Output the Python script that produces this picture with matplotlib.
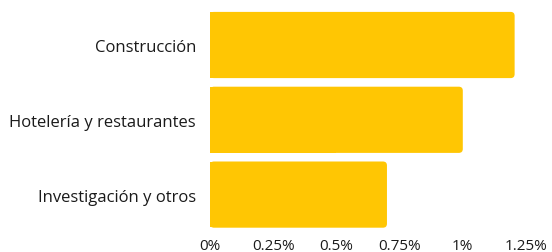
import matplotlib
matplotlib.use("Agg")
import matplotlib.pyplot as plt
from matplotlib.patches import FancyBboxPatch, Rectangle

categories = ["Construcción", "Hotelería y restaurantes", "Investigación y otros"]
values = [1.205, 1.0, 0.70]
tick_vals = [0, 0.25, 0.5, 0.75, 1.0, 1.25]
tick_labels = ["0%", "0.25%", "0.5%", "0.75%", "1%", "1.25%"]

color = "#FFC603"
plt.rcParams["font.family"] = ["Open Sans", "DejaVu Sans"]

fig = plt.figure(figsize=(5.52, 2.53), dpi=100)
ax = fig.add_axes([210/552, 1-233/253, (526-210)/552, (233-8.6)/253])
ax.set_xlim(0, 1.25)
ax.set_ylim(2.5, -0.5)

h = 0.885
px_x = (526-210)/1.25
px_y = (233-8.6)/3
aspect = px_x/px_y
r = 4/px_x
for i, v in enumerate(values):
    p = FancyBboxPatch((0, i - h/2), v, h,
                       boxstyle=f"round,pad=0,rounding_size={r}",
                       mutation_aspect=aspect, fc=color, ec="none")
    ax.add_patch(p)
    ax.add_patch(Rectangle((0, i - h/2 + 0.004), v/2, h - 0.008, fc=color, ec="none"))

ax.set_yticks(range(len(categories)))
ax.set_yticklabels(categories, fontsize=12, color="#1a1a1a", fontweight="medium")
ax.set_xticks(tick_vals)
ax.set_xticklabels(tick_labels, fontsize=11, color="#1a1a1a", fontweight="medium")
ax.tick_params(axis="y", length=0, pad=10)
ax.tick_params(axis="x", length=0, pad=4)
for s in ax.spines.values():
    s.set_visible(False)

fig.savefig("out.png", dpi=100)
